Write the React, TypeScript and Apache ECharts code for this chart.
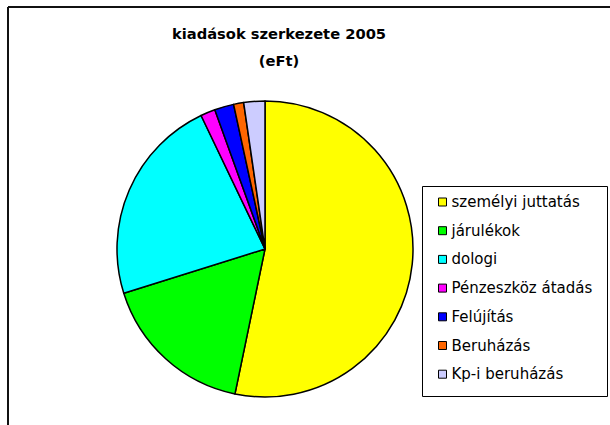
import React, { useEffect, useRef } from "react";
import * as echarts from "echarts";

const titleLines = ["kiadások szerkezete 2005", "(eFt)"];
const categories = [
  "személyi juttatás",
  "járulékok",
  "dologi",
  "Pénzeszköz átadás",
  "Felújítás",
  "Beruházás",
  "Kp-i beruházás",
];
const values = [53.2, 16.9, 22.7, 1.6, 2.1, 1.1, 2.3];
const colors = ["#FFFF00", "#00FF00", "#00FFFF", "#FF00FF", "#0000FF", "#FF6600", "#CCCCFF"];

export default function App() {
  const ref = useRef<HTMLDivElement>(null);
  useEffect(() => {
    if (!ref.current) return;
    const chart = echarts.init(ref.current, null, { renderer: "svg" });
    const font = "'DejaVu Sans', sans-serif";
    chart.setOption({
      animation: false,
      backgroundColor: "#ffffff",
      graphic: [
        {
          type: "line",
          shape: { x1: 8, y1: 7, x2: 610, y2: 7 },
          style: { stroke: "#111", lineWidth: 2 },
          z: 0,
        },
        {
          type: "line",
          shape: { x1: 8, y1: 7, x2: 8, y2: 425 },
          style: { stroke: "#111", lineWidth: 2 },
          z: 0,
        },
        {
          type: "rect",
          shape: { x: 422.5, y: 186.5, width: 185, height: 210 },
          style: { fill: "#fff", stroke: "#000", lineWidth: 1 },
          z: 0,
        },
        {
          type: "text",
          x: 279,
          y: 33,
          style: {
            text: titleLines[0],
            textAlign: "center",
            textVerticalAlign: "middle",
            font: `bold 14.7px ${font}`,
            fill: "#000",
          },
        },
        {
          type: "text",
          x: 279,
          y: 60,
          style: {
            text: titleLines[1],
            textAlign: "center",
            textVerticalAlign: "middle",
            font: `bold 14.7px ${font}`,
            fill: "#000",
          },
        },
      ],
      legend: {
        orient: "vertical",
        left: 438,
        top: 194.5,
        padding: 0,
        itemWidth: 8,
        itemHeight: 8,
        itemGap: 13.7,
        icon: "rect",
        selectedMode: false,
        itemStyle: { borderColor: "#000", borderWidth: 1 },
        textStyle: { fontSize: 15, lineHeight: 15, fontFamily: font, color: "#000" },
        data: categories,
        z: 5,
      },
      series: [
        {
          type: "pie",
          center: [265, 249],
          radius: 148,
          startAngle: 90,
          clockwise: true,
          label: { show: false },
          labelLine: { show: false },
          emphasis: { disabled: true },
          itemStyle: { borderColor: "#000", borderWidth: 1.5 },
          data: categories.map((name, i) => ({
            name,
            value: values[i],
            itemStyle: { color: colors[i] },
          })),
        },
      ],
    });
    return () => chart.dispose();
  }, []);
  return (
    <div
      ref={ref}
      style={{ position: "absolute", left: 0, top: 0, width: 610, height: 425 }}
    />
  );
}
